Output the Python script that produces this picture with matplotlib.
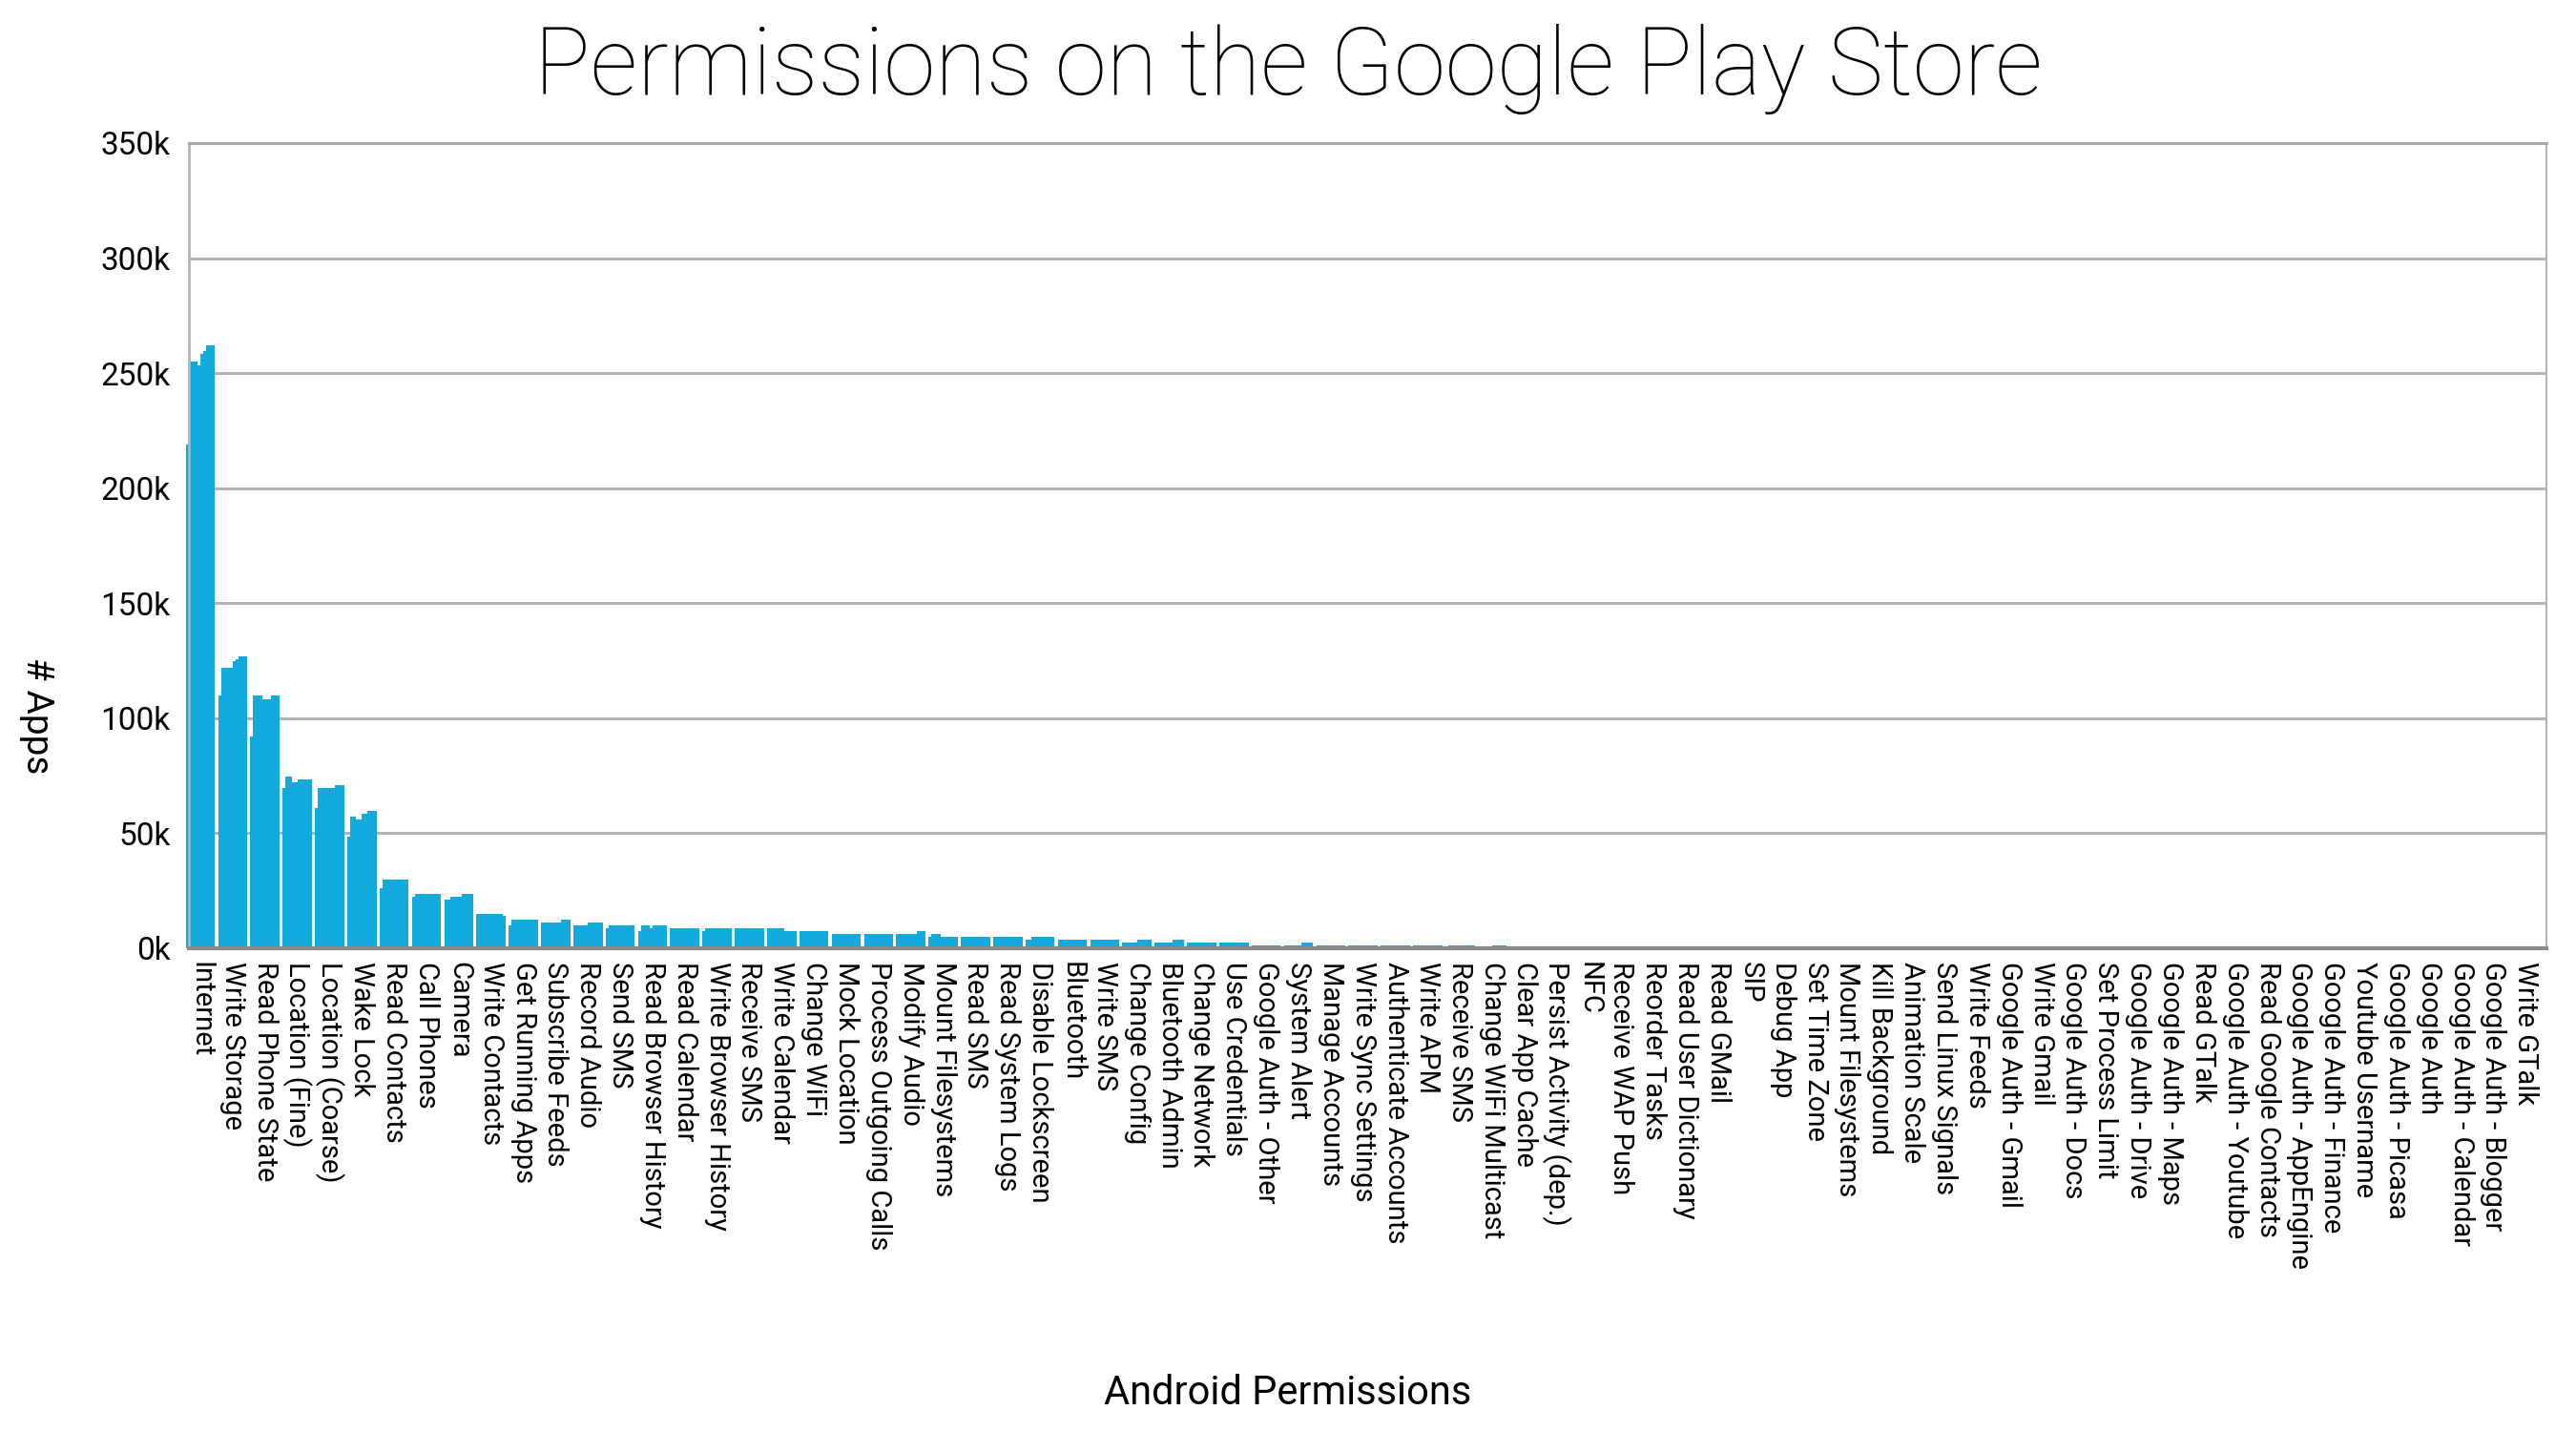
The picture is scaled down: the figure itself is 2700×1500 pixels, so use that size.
import numpy as np
import matplotlib
matplotlib.use('Agg')
import matplotlib.pyplot as plt

# permission names, left to right
permissions = [
    'Internet', 'Write Storage', 'Read Phone State', 'Location (Fine)',
    'Location (Coarse)', 'Wake Lock', 'Read Contacts', 'Call Phones', 'Camera',
    'Write Contacts', 'Get Running Apps', 'Subscribe Feeds', 'Record Audio',
    'Send SMS', 'Read Browser History', 'Read Calendar', 'Write Browser History',
    'Receive SMS', 'Write Calendar', 'Change WiFi', 'Mock Location',
    'Process Outgoing Calls', 'Modify Audio', 'Mount Filesystems', 'Read SMS',
    'Read System Logs', 'Disable Lockscreen', 'Bluetooth', 'Write SMS',
    'Change Config', 'Bluetooth Admin', 'Change Network', 'Use Credentials',
    'Google Auth - Other', 'System Alert', 'Manage Accounts',
    'Write Sync Settings', 'Authenticate Accounts', 'Write APM', 'Receive SMS',
    'Change WiFi Multicast', 'Clear App Cache', 'Persist Activity (dep.)', 'NFC',
    'Receive WAP Push', 'Reorder Tasks', 'Read User Dictionary', 'Read GMail',
    'SIP', 'Debug App', 'Set Time Zone', 'Mount Filesystems', 'Kill Background',
    'Animation Scale', 'Send Linux Signals', 'Write Feeds', 'Google Auth - Gmail',
    'Write Gmail', 'Google Auth - Docs', 'Set Process Limit', 'Google Auth - Drive',
    'Google Auth - Maps', 'Read GTalk', 'Google Auth - Youtube',
    'Read Google Contacts', 'Google Auth - AppEngine', 'Google Auth - Finance',
    'Youtube Username', 'Google Auth - Picasa', 'Google Auth',
    'Google Auth - Calendar', 'Google Auth - Blogger', 'Write GTalk',
]

# number of apps (thousands) in each of ten crawls; permissions past
# 'Change WiFi Multicast' stay at zero
snap_1 = [219, 109.7, 92.2, 69.7, 61, 48.5, 26, 22.3, 21, 15.1, 10.1, 11.3, 10.1,
          8.9, 7.6, 8.9, 7.6, 8.9, 8.9, 7.6, 6.4, 6.4, 6.4, 5.1, 5.1, 5.1, 3.9,
          3.9, 3.9, 2.6, 2.6, 2.6, 2.6, 1.3, 1.3, 1.3, 1.3, 1.3, 1.3, 0, 0]
snap_2 = [255, 122, 109.7, 74.7, 69.7, 57.2, 29.7, 23.6, 21, 15.1, 12.6, 11.3, 10.1,
          10.1, 10.1, 8.9, 8.9, 8.9, 8.9, 7.6, 6.4, 6.4, 6.4, 6.4, 5.1, 5.1, 3.9,
          3.9, 3.9, 2.6, 2.6, 2.6, 2.6, 1.3, 1.3, 1.3, 1.3, 1.3, 1.3, 1.3, 0]
snap_3 = [255, 122, 109.7, 74.7, 69.7, 57.2, 29.7, 23.6, 22.3, 15.1, 12.6, 11.3, 10.1,
          10.1, 10.1, 8.9, 8.9, 8.9, 8.9, 7.6, 6.4, 6.4, 6.4, 6.4, 5.1, 5.1, 5.1,
          3.9, 3.9, 2.6, 2.6, 2.6, 2.6, 1.3, 1.3, 1.3, 1.3, 1.3, 1.3, 1.3, 0]
snap_4 = [255, 122, 109.7, 72.1, 69.7, 55.9, 29.7, 23.6, 22.3, 15.1, 12.6, 11.3, 10.1,
          10.1, 10.1, 8.9, 8.9, 8.9, 8.9, 7.6, 6.4, 6.4, 6.4, 6.4, 5.1, 5.1, 5.1,
          3.9, 3.9, 2.6, 2.6, 2.6, 2.6, 1.3, 1.3, 1.3, 1.3, 1.3, 1.3, 1.3, 0]
snap_5 = [253.5, 122, 108.4, 72.1, 69.7, 55.9, 29.7, 23.6, 22.3, 15.1, 12.6, 11.3, 10.1,
          10.1, 8.9, 8.9, 8.9, 8.9, 8.9, 7.6, 6.4, 6.4, 6.4, 5.1, 5.1, 5.1, 5.1,
          3.9, 3.9, 2.6, 2.6, 2.6, 2.6, 1.3, 1.3, 1.3, 1.3, 1.3, 1.3, 1.3, 0]
snap_6 = [258.4, 124.7, 108.4, 73.4, 69.7, 58.4, 29.7, 23.6, 22.3, 15.1, 12.6, 11.3, 11.3,
          10.1, 10.1, 8.9, 8.9, 8.9, 8.9, 7.6, 6.4, 6.4, 6.4, 5.1, 5.1, 5.1, 5.1,
          3.9, 3.9, 3.9, 2.6, 2.6, 2.6, 1.3, 1.3, 1.3, 1.3, 1.3, 1.3, 1.3, 1.3]
snap_7 = [259.7, 125.8, 108.4, 73.4, 69.7, 58.4, 29.7, 23.6, 23.6, 15.1, 12.6, 11.3, 11.3,
          10.1, 10.1, 8.9, 8.9, 8.9, 7.6, 7.6, 6.4, 6.4, 6.4, 5.1, 5.1, 5.1, 5.1,
          3.9, 3.9, 3.9, 3.9, 2.6, 2.6, 1.3, 2.6, 1.3, 1.3, 1.3, 1.3, 1.3, 1.3]
snap_8 = [262, 127.1, 109.7, 73.4, 71, 59.7, 29.7, 23.6, 23.6, 15.1, 12.6, 12.6, 11.3,
          10.1, 10.1, 8.9, 8.9, 8.9, 7.6, 7.6, 6.4, 6.4, 7.6, 5.1, 5.1, 5.1, 5.1,
          3.9, 3.9, 3.9, 3.9, 2.6, 2.6, 1.3, 2.6, 1.3, 1.3, 1.3, 1.3, 1.3, 1.3]
snap_9 = [262, 127.1, 109.7, 73.4, 71, 59.7, 29.7, 23.6, 23.6, 15.1, 12.6, 12.6, 11.3,
          10.1, 10.1, 8.9, 8.9, 8.9, 7.6, 7.6, 6.4, 6.4, 7.6, 5.1, 5.1, 5.1, 5.1,
          3.9, 3.9, 3.9, 3.9, 2.6, 2.6, 1.3, 2.6, 1.3, 1.3, 1.3, 1.3, 1.3, 1.3]
snap_10 = [262, 127.1, 109.7, 73.4, 71, 59.7, 29.7, 23.6, 23.6, 13.9, 12.6, 12.6, 11.3,
           10.1, 10.1, 8.9, 8.9, 8.9, 7.6, 7.6, 6.4, 6.4, 7.6, 5.1, 5.1, 5.1, 5.1,
           3.9, 3.9, 3.9, 3.9, 2.6, 2.6, 1.3, 2.6, 1.3, 1.3, 1.3, 1.3, 1.3, 1.3]

y_ticks = [0, 50, 100, 150, 200, 250, 300, 350]
y_tick_labels = ['0k', '50k', '100k', '150k', '200k', '250k', '300k', '350k']

snapshots = [snap_1, snap_2, snap_3, snap_4, snap_5,
             snap_6, snap_7, snap_8, snap_9, snap_10]

plt.rcParams['font.family'] = ['Roboto', 'DejaVu Sans']
bar_color = '#12a9dc'

fig = plt.figure(figsize=(27, 15), dpi=100)
ax = fig.add_axes([198 / 2700, 1 - 994 / 1500, 2471 / 2700, 844 / 1500])

# each permission is a block of ten thin bars, one per crawl
w = 0.09
for k, snap in enumerate(snapshots):
    x = np.arange(len(snap)) + (k - 4.5) * w
    ax.bar(x, [v * 1000 for v in snap], width=w * 1.04, color=bar_color,
           linewidth=0, zorder=2, clip_on=False)

ax.set_xlim(-0.355, len(permissions) - 1 + 0.64)
ax.set_ylim(0, 350000)

ax.set_xticks(np.arange(len(permissions)))
ax.set_xticklabels(permissions, rotation=270, fontsize=21, va='top', ha='center')
ax.set_yticks([t * 1000 for t in y_ticks])
ax.set_yticklabels(y_tick_labels, fontsize=24)
ax.tick_params(axis='both', length=0)
ax.tick_params(axis='x', pad=10)
ax.tick_params(axis='y', pad=14)

ax.yaxis.grid(True, color='#b4b4b4', linewidth=2.2, zorder=0)
ax.set_axisbelow(True)
ax.spines['top'].set_color('#a8a8a8')
ax.spines['top'].set_linewidth(2.2)
ax.spines['left'].set_color('#b4b4b4')
ax.spines['left'].set_linewidth(2)
ax.spines['right'].set_color('#b4b4b4')
ax.spines['right'].set_linewidth(1.5)
ax.spines['bottom'].set_color('#8c8c8c')
ax.spines['bottom'].set_linewidth(3)
ax.spines['bottom'].set_zorder(3)

fig.text(0.5, 1 - 72 / 1500, 'Permissions on the Google Play Store',
         ha='center', va='center', fontsize=70.5, fontweight='light')
fig.text(0.5, 1 - 1460 / 1500, 'Android Permissions',
         ha='center', va='center', fontsize=30)
fig.text(38 / 2700, 1 - 750 / 1500, '# Apps', rotation=270,
         ha='center', va='center', fontsize=28)

fig.savefig('out.png', dpi=100)
